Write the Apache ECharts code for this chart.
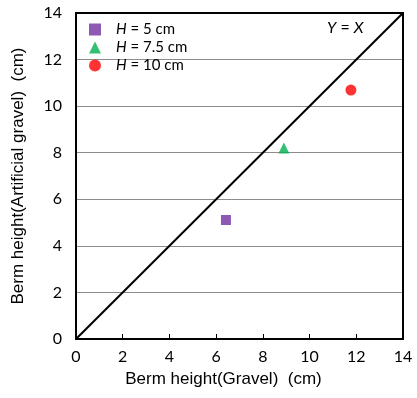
<!DOCTYPE html>
<html><head><meta charset="utf-8">
<script src="https://cdn.jsdelivr.net/npm/echarts@6/dist/echarts.min.js"></script>
<style>html,body{margin:0;padding:0;background:#fff}#c{width:417px;height:398px}</style>
</head><body><div id="c"></div>
<script>
const seriesNames = ['H = 5 cm', 'H = 7.5 cm', 'H = 10 cm'];
const h5 = [[6.42, 5.11]];
const h75 = [[8.9, 8.2]];
const h10 = [[11.77, 10.69]];
const refLine = [[0, 0], [14, 14]];
const ticks = [0, 2, 4, 6, 8, 10, 12, 14];

const chart = echarts.init(document.getElementById('c'));
const tickFont = {fontFamily: 'Lato', fontSize: 16, color: '#000'};
chart.setOption({
  animation: false,
  grid: {left: 76, right: 14, top: 13, bottom: 59},
  xAxis: {
    type: 'value', min: 0, max: 14, interval: 2,
    name: 'Berm height(Gravel)  (cm)', nameLocation: 'middle', nameGap: 32,
    nameTextStyle: {fontFamily: 'Liberation Sans', fontSize: 17, color: '#000', padding: [0, 32, 0, 0]},
    axisLine: {show: true, onZero: false, lineStyle: {color: '#000', width: 2}},
    axisTick: {show: true, inside: true, length: 5, lineStyle: {color: '#000'}},
    axisLabel: Object.assign({margin: 10}, tickFont),
    splitLine: {show: false}
  },
  yAxis: {
    type: 'value', min: 0, max: 14, interval: 2,
    name: 'Berm height(Artificial gravel)  (cm)', nameLocation: 'middle', nameGap: 49,
    nameTextStyle: {fontFamily: 'Liberation Sans', fontSize: 17, color: '#000'},
    axisLine: {show: true, onZero: false, lineStyle: {color: '#000', width: 2}},
    axisTick: {show: false},
    axisLabel: Object.assign({margin: 14}, tickFont),
    splitLine: {show: true, lineStyle: {color: '#8c8c8c', width: 1}}
  },
  legend: {
    orient: 'vertical', left: 84, top: 17, itemGap: 3, itemWidth: 12, itemHeight: 12,
    data: [
      {name: seriesNames[0], icon: 'rect'},
      {name: seriesNames[1], icon: 'triangle'},
      {name: seriesNames[2], icon: 'circle'}
    ],
    formatter: function (n) { return '{i|H}' + n.slice(1); },
    textStyle: {
      fontFamily: 'Lato', fontSize: 15, color: '#000', padding: [0, 0, 0, 10],
      rich: {i: {fontFamily: 'Lato', fontStyle: 'italic', fontSize: 15, color: '#000'}}
    }
  },
  graphic: [{
    type: 'text', left: 327, top: 20,
    style: {text: '{i|Y} = {i|X}', fontFamily: 'Lato', fontSize: 16, fill: '#000',
      rich: {i: {fontFamily: 'Lato', fontStyle: 'italic', fontSize: 16}}}
  }, {
    type: 'rect', shape: {x: 76, y: 13, width: 327, height: 326},
    style: {fill: 'none', stroke: '#000', lineWidth: 2}, z: 100
  }],
  series: [
    {type: 'line', data: refLine, symbol: 'none', lineStyle: {color: '#000', width: 2}, silent: true, z: 1},
    {type: 'scatter', name: seriesNames[0], data: h5, symbol: 'rect', symbolSize: 10, itemStyle: {color: '#7030a0'}, z: 3},
    {type: 'scatter', name: seriesNames[1], data: h75, symbol: 'triangle', symbolSize: 11, itemStyle: {color: '#00b050'}, z: 3},
    {type: 'scatter', name: seriesNames[2], data: h10, symbol: 'circle', symbolSize: 11, itemStyle: {color: '#ff0000'}, z: 3}
  ]
});
</script></body></html>
